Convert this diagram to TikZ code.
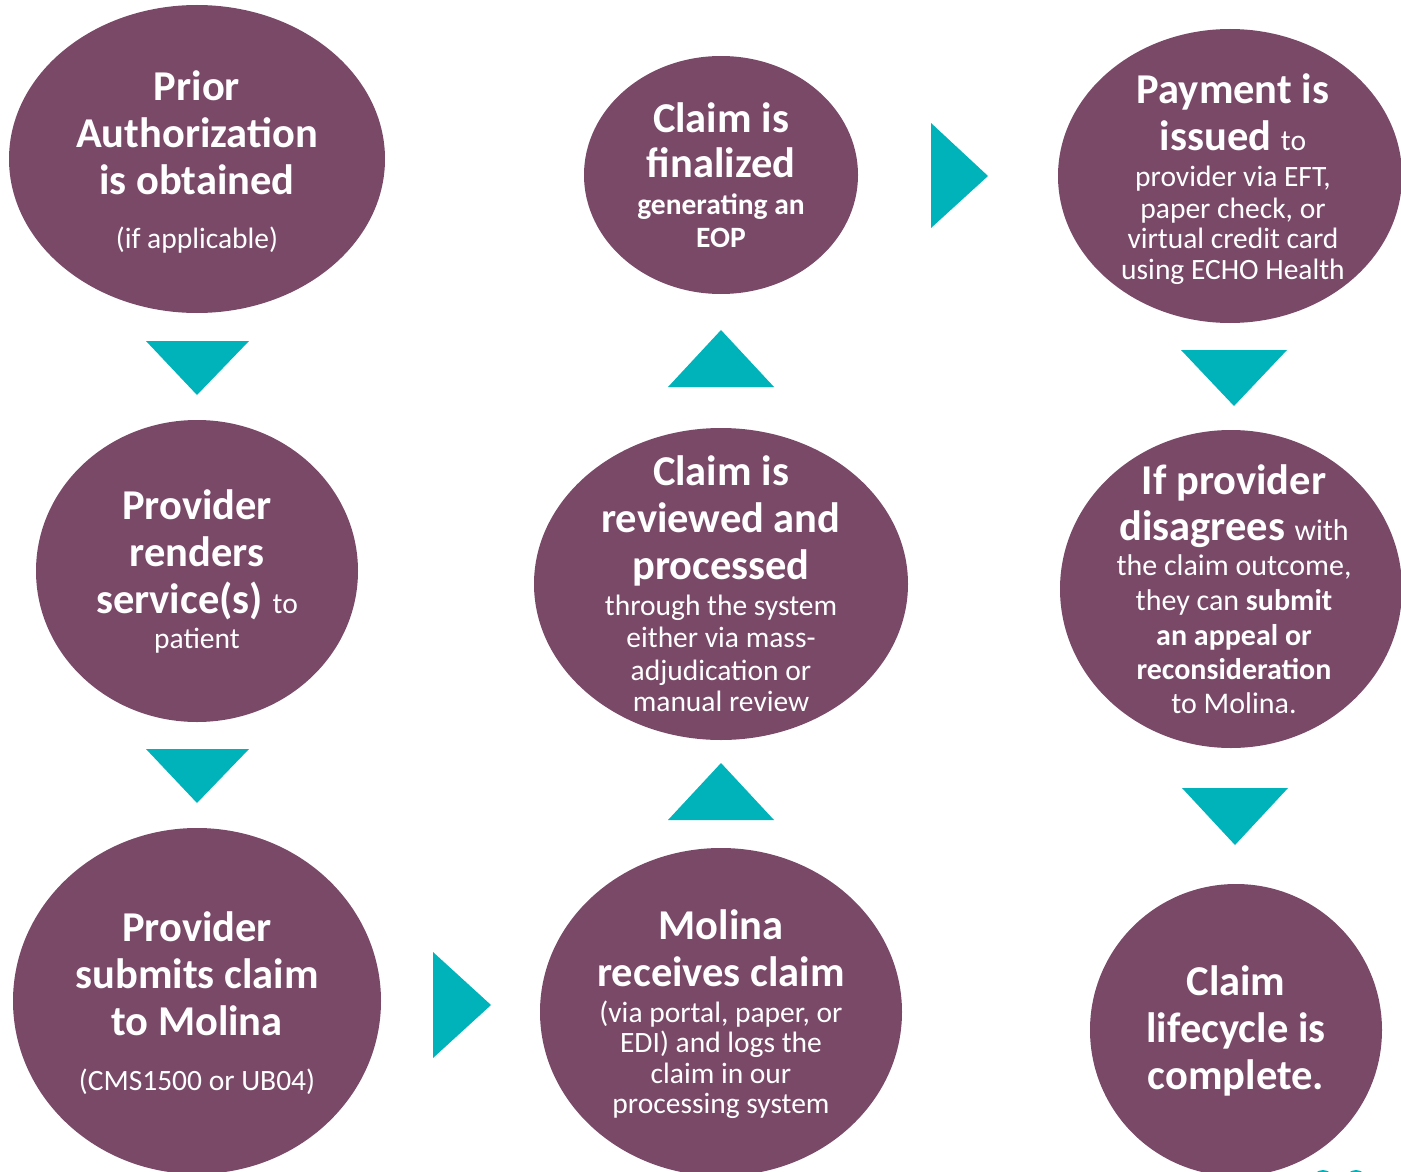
\documentclass[tikz,border=0pt]{standalone}
\usepackage{fontspec}
\setmainfont{Carlito}
\usetikzlibrary{shapes.geometric}
\definecolor{plum}{RGB}{122,73,104}
\definecolor{tealc}{RGB}{0,179,186}
\newcommand\sm{\fontsize{29.5}{31}\selectfont\mdseries}
\newcommand\smb{\fontsize{29.5}{31}\selectfont\bfseries}
\newcommand\smg{\fontsize{30}{31}\selectfont\mdseries}
\newcommand\smgb{\fontsize{30}{31}\selectfont\bfseries}
\begin{document}
\begin{tikzpicture}[x=1pt,y=-1pt,
  bub/.style={ellipse, fill=plum, inner sep=0pt, draw=none},
  txt/.style={text=white, align=center, inner sep=0pt, anchor=base,
    font=\fontsize{42.5}{47}\selectfont\bfseries},
  tri/.style={fill=tealc}]
\useasboundingbox (0,0) rectangle (1401,1172);

% bubbles
\node[bub, minimum width=376, minimum height=308] (e1) at (197,159) {};
\node[bub, minimum width=322, minimum height=302] (e2) at (197,571) {};
\node[bub, minimum width=368, minimum height=346] (e3) at (197,1001) {};
\node[bub, minimum width=362, minimum height=328] (e4) at (721,1012) {};
\node[bub, minimum width=374, minimum height=312] (e5) at (721,584) {};
\node[bub, minimum width=274, minimum height=238] (e6) at (721,175) {};
\node[bub, minimum width=344, minimum height=294] (e7) at (1230,176) {};
\node[bub, minimum width=342, minimum height=318] (e8) at (1231,589) {};
\node[bub, minimum width=292, minimum height=292] (e9) at (1236,1030) {};

% texts (anchor = baseline of the last line)
\node[txt] (t1) at (197,248) {Prior\\Authorization\\is obtained\\[7pt]{\sm (if applicable)}};
\node[txt] (t2) at (197,648) {Provider\\renders\\service(s) {\sm to}\\[-12pt]{\sm patient}};
\node[txt] (t3) at (197,1090) {Provider\\submits claim\\to Molina\\[8pt]{\sm (CMS1500 or UB04)}};
\node[txt] (t4) at (721,1113) {Molina\\receives claim\\[-11pt]{\sm (via portal, paper, or}\\[-17pt]{\sm EDI) and logs the}\\[-16pt]{\sm claim in our}\\[-17pt]{\sm processing system}};
\node[txt] (t5) at (721,711) {Claim is\\reviewed and\\processed\\[-11pt]{\sm through the system}\\[-15pt]{\sm either via mass-}\\[-14pt]{\sm adjudication or}\\[-16pt]{\sm manual review}};
\node[txt] (t6) at (721,247) {Claim is\\[-2pt]finalized\\[-10pt]{\smb generating an}\\[-14pt]{\smb EOP}};
\node[txt] (t7) at (1233,279) {Payment is\\issued {\sm to}\\[-11pt]{\sm provider via EFT,}\\[-15pt]{\sm paper check, or}\\[-17pt]{\sm virtual credit card}\\[-16pt]{\sm using ECHO Health}};
\node[txt] (t8) at (1234,713) {If provider\\[-1pt]disagrees {\smg with}\\[-12pt]{\smg the claim outcome,}\\[-12pt]{\smg they can \textbf{submit}}\\[-12pt]{\smgb an appeal or}\\[-13pt]{\smgb reconsideration}\\[-13pt]{\smg to Molina.}};
\node[txt] (t9) at (1236,1089) {Claim\\lifecycle is\\complete.};

% arrows (triangles)
\fill[tri] (146,341) -- (249,341) -- (197,395) -- cycle;
\fill[tri] (146,749) -- (249,749) -- (197,803) -- cycle;
\fill[tri] (433,952) -- (491,1005) -- (433,1058) -- cycle;
\fill[tri] (668,820) -- (774,820) -- (721,763) -- cycle;
\fill[tri] (668,387) -- (774,387) -- (721,330) -- cycle;
\fill[tri] (931,123) -- (988,176) -- (931,228) -- cycle;
\fill[tri] (1181,350) -- (1287,350) -- (1234,406) -- cycle;
\fill[tri] (1182,788) -- (1288,788) -- (1235,845) -- cycle;

% decorative dots at the bottom edge
\fill[tealc] (1323,1181) circle (11);
\fill[tealc] (1356,1181) circle (11);
\end{tikzpicture}
\end{document}
